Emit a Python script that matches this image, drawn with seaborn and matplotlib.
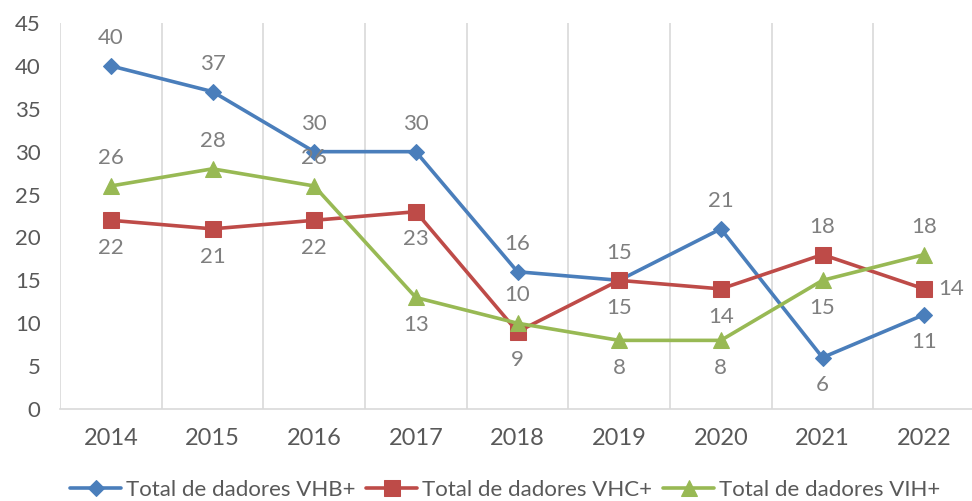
import matplotlib
matplotlib.use("Agg")
import matplotlib.pyplot as plt
import seaborn as sns
import pandas as pd
from matplotlib.ticker import FixedLocator, MultipleLocator

years = ["2014", "2015", "2016", "2017", "2018", "2019", "2020", "2021", "2022"]
vhb = [40, 37, 30, 30, 16, 15, 21, 6, 11]
vhc = [22, 21, 22, 23, 9, 15, 14, 18, 14]
vih = [26, 28, 26, 13, 10, 8, 8, 15, 18]
series_names = ["Total de dadores VHB+", "Total de dadores VHC+", "Total de dadores VIH+"]

# label placement (style, not data)
pos_vhb = ["a", "a", "a", "a", "a", "a", "a", "b", "b"]
pos_vhc = ["b", "b", "b", "b", "b", "b", "b", "a", "r"]
pos_vih = ["a", "a", "a", "b", "a", "b", "b", "b", "a"]

colors = ["#4A7EBB", "#BE4B48", "#98B954"]
markers = ["D", "s", "^"]
msizes = [8, 11, 11]

sns.set_theme(style="white")
plt.rcParams["font.family"] = ["Lato", "DejaVu Sans"]

fig = plt.figure(figsize=(9.72, 5.01), dpi=100)
ax = fig.add_axes([60 / 972, 1 - 409 / 501, 915 / 972, (409 - 23) / 501])

idx = list(range(len(years)))
all_vals = [vhb, vhc, vih]
all_pos = [pos_vhb, pos_vhc, pos_vih]
for name, vals, col, mk, ms in zip(series_names, all_vals, colors, markers, msizes):
    df = pd.DataFrame({"x": idx, "y": vals})
    sns.lineplot(data=df, x="x", y="y", ax=ax, color=col, marker=mk, markersize=ms,
                 markeredgecolor=col, linewidth=2.6, label=name)

for vals, poss in zip(all_vals, all_pos):
    for i, (v, p) in enumerate(zip(vals, poss)):
        if p == "a":
            off, ha, va = (0, 20), "center", "center"
        elif p == "b":
            off, ha, va = (0, -20), "center", "center"
        else:
            off, ha, va = (10, 0), "left", "center"
        ax.annotate(str(v), (i, v), xytext=off, textcoords="offset points",
                    ha=ha, va=va, fontsize=16, color="#7F7F7F")

ax.set_xlim(-0.5, len(years) - 0.5)
ax.set_ylim(0, 45)
ax.yaxis.set_major_locator(MultipleLocator(5))
ax.set_xticks(idx)
ax.set_xticklabels(years)
ax.xaxis.set_minor_locator(FixedLocator([i - 0.5 for i in range(len(years) + 1)]))
ax.grid(False)
ax.grid(True, which="minor", axis="x", color="#D9D9D9", linewidth=1.2)
ax.tick_params(axis="both", which="both", length=0)
ax.tick_params(axis="x", labelsize=17, colors="#595959", pad=14)
ax.tick_params(axis="y", labelsize=16, colors="#595959", pad=14)
for s in ["top", "right", "left"]:
    ax.spines[s].set_visible(False)
ax.spines["bottom"].set_color("#D9D9D9")
ax.spines["bottom"].set_linewidth(1.2)
ax.set_xlabel("")
ax.set_ylabel("")

ax.legend(loc="center", bbox_to_anchor=(505 / 972, 1 - 490 / 501), bbox_transform=fig.transFigure,
          ncol=3, frameon=False, fontsize=16, labelcolor="#595959", handlelength=2.3,
          handletextpad=0.2, columnspacing=0.5, borderaxespad=0)

fig.savefig("out.png", dpi=100)
